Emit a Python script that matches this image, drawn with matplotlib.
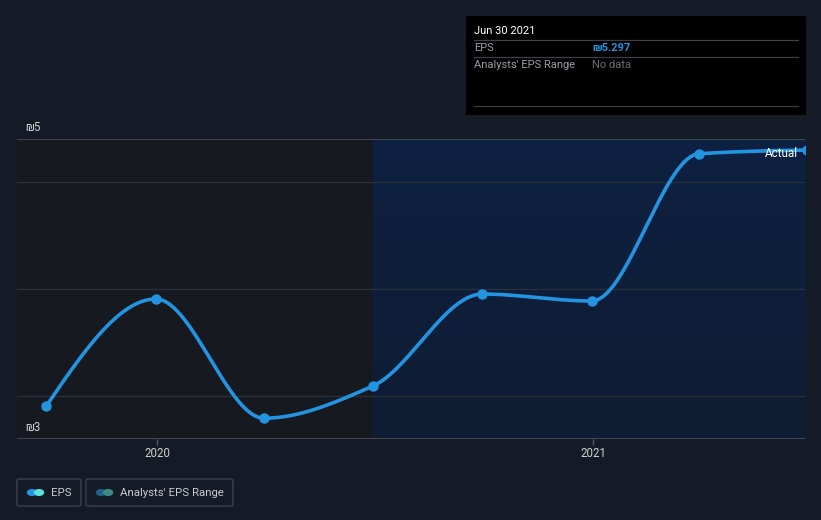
import numpy as np
import matplotlib
matplotlib.use("Agg")
import matplotlib.pyplot as plt
import matplotlib.dates as mdates
from matplotlib.patches import FancyBboxPatch, Rectangle
from matplotlib.colors import LinearSegmentedColormap
import datetime as dt

plt.rcParams['font.family'] = ['Roboto', 'DejaVu Sans']

# ---- data ----
dates = ["2019-09-30", "2019-12-31", "2020-03-31", "2020-06-30",
         "2020-09-30", "2020-12-31", "2021-03-31", "2021-06-30"]
eps = [2.907, 3.907, 2.794, 3.093, 3.953, 3.888, 5.262, 5.297]
xticks = ["2020-01-01", "2021-01-01"]
xtick_labels = ["2020", "2021"]
y_label_values = [5.4, 2.6]
y_label_texts = ["₪5", "₪3"]
grid_values = [3, 4, 5]
tooltip_date = "Jun 30 2021"
tooltip_eps = "₪5.297"
split_date = "2020-06-30"

BG = "#151b26"
W, H = 821, 520

fig = plt.figure(figsize=(W / 100, H / 100), dpi=100)
fig.patch.set_facecolor(BG)

x0, x1, ytop, ybot = 17, 805, 139, 439
ax = fig.add_axes([x0 / W, 1 - ybot / H, (x1 - x0) / W, (ybot - ytop) / H])
ax.set_facecolor(BG)
for s in ax.spines.values():
    s.set_visible(False)

xd = np.array([mdates.date2num(dt.datetime.strptime(d, "%Y-%m-%d")) for d in dates])
y = np.array(eps)

t2020 = mdates.date2num(dt.datetime(2020, 1, 1))
px_per_day = 435 / 365.25
xmin = t2020 - (157 - x0) / px_per_day
xmax = t2020 + (x1 - 157) / px_per_day
ax.set_xlim(xmin, xmax)
ax.set_ylim(2.6, 5.4)

split = mdates.date2num(dt.datetime.strptime(split_date, "%Y-%m-%d"))
ax.axvspan(xmin, split, color="#16191f", zorder=0, lw=0)
grad = np.linspace(0, 1, 256).reshape(-1, 1)
cmap = LinearSegmentedColormap.from_list("g", ["#0f1d33", "#0e2142"])
ax.imshow(grad, extent=[split, xmax, 2.6, 5.4], aspect="auto", cmap=cmap,
          origin="lower", zorder=0.5)

for g in grid_values:
    ax.axhline(g, color="#2a313c", lw=0.9, zorder=1)
ax.axhline(5.4, color="#4a505a", lw=1.2, zorder=1)
ax.axhline(2.6, color="#4a505a", lw=1.2, zorder=1)


# monotone cubic (Fritsch-Carlson) for smooth curve drawing
def monotone(xs, ys, n=60):
    xs = np.asarray(xs, float); ys = np.asarray(ys, float)
    h = np.diff(xs); d = np.diff(ys) / h
    m = np.zeros_like(ys)
    for i in range(1, len(xs) - 1):
        if d[i - 1] * d[i] <= 0:
            m[i] = 0
        else:
            w1 = 2 * h[i] + h[i - 1]; w2 = h[i] + 2 * h[i - 1]
            m[i] = (w1 + w2) / (w1 / d[i - 1] + w2 / d[i])
    m[0] = (3 * d[0] - m[1]) / 2
    m[-1] = (3 * d[-1] - m[-2]) / 2
    X, Y = [], []
    for i in range(len(xs) - 1):
        t = np.linspace(0, 1, n)
        h00 = 2 * t**3 - 3 * t**2 + 1; h10 = t**3 - 2 * t**2 + t
        h01 = -2 * t**3 + 3 * t**2; h11 = t**3 - t**2
        X.append(xs[i] + t * h[i])
        Y.append(h00 * ys[i] + h10 * h[i] * m[i] + h01 * ys[i + 1] + h11 * h[i] * m[i + 1])
    return np.concatenate(X), np.concatenate(Y)


cx, cy = monotone(xd, y)
LINE = "#2394e0"
ax.plot(cx, cy, color=LINE, lw=2.6, zorder=3, solid_capstyle="round")
ax.plot(xd, y, "o", color=LINE, ms=6.5, zorder=4)

ax.text(xd[-1] - 9 / px_per_day, y[-1] - 0.03, "Actual", color="white", fontsize=8.5,
        ha="right", va="center", zorder=5)

xt = [mdates.date2num(dt.datetime.strptime(d, "%Y-%m-%d")) for d in xticks]
ax.set_xticks(xt)
ax.set_xticklabels(xtick_labels)
ax.tick_params(axis="x", colors="#555b65", length=4, width=1, labelcolor="#d0d0d0",
               labelsize=8.3, pad=2)
ax.set_yticks([])

for v, t in zip(y_label_values, y_label_texts):
    ypix = ytop if v > 4 else ybot
    fig.text(25 / W, 1 - ypix / H + 5 / H, t, color="#d0d0d0",
             fontsize=8.3, ha="left", va="bottom")

# tooltip box
fig.patches.append(Rectangle((466 / W, 1 - 115 / H), (806 - 466) / W, (115 - 16) / H,
                             transform=fig.transFigure, facecolor="black", edgecolor="none"))
for yy in [40, 57, 106]:
    fig.add_artist(plt.Line2D([474 / W, 798 / W], [1 - yy / H, 1 - yy / H],
                              color="#3c3f45", lw=0.9))
fig.text(474 / W, 1 - 31 / H, tooltip_date, color="white", fontsize=8, va="center")
fig.text(474 / W, 1 - 48 / H, "EPS", color="#9a9da3", fontsize=8, va="center")
fig.text(592 / W, 1 - 48 / H, tooltip_eps, color="#2394e0", fontsize=8,
         va="center", fontweight="bold")
fig.text(474 / W, 1 - 65 / H, "Analysts' EPS Range", color="#9a9da3", fontsize=8, va="center")
fig.text(592 / W, 1 - 65 / H, "No data", color="#6a6d73", fontsize=8, va="center")

# legend
def legend_box(xa, xb, label, c1, c2):
    fig.patches.append(FancyBboxPatch((xa / W, 1 - 506 / H), (xb - xa) / W, 27 / H,
                                      boxstyle="round,pad=0,rounding_size=0.003",
                                      transform=fig.transFigure, facecolor="none",
                                      edgecolor="#3c424c", lw=1))
    fig.patches.append(plt.Circle(((xa + 15) / W, 1 - 492.5 / H), 4.5 / W,
                                  transform=fig.transFigure, color=c1))
    fig.patches.append(plt.Circle(((xa + 22) / W, 1 - 492.5 / H), 4.5 / W,
                                  transform=fig.transFigure, color=c2))
    fig.text((xa + 34) / W, 1 - 492.5 / H, label, color="#c8ccd2", fontsize=8.2, va="center")

legend_box(17, 81, "EPS", "#2394e0", "#5ee0d8")
legend_box(86, 233, "Analysts' EPS Range", "#1f5f8a", "#3e8a86")

fig.savefig("out.png", dpi=100, facecolor=BG)
